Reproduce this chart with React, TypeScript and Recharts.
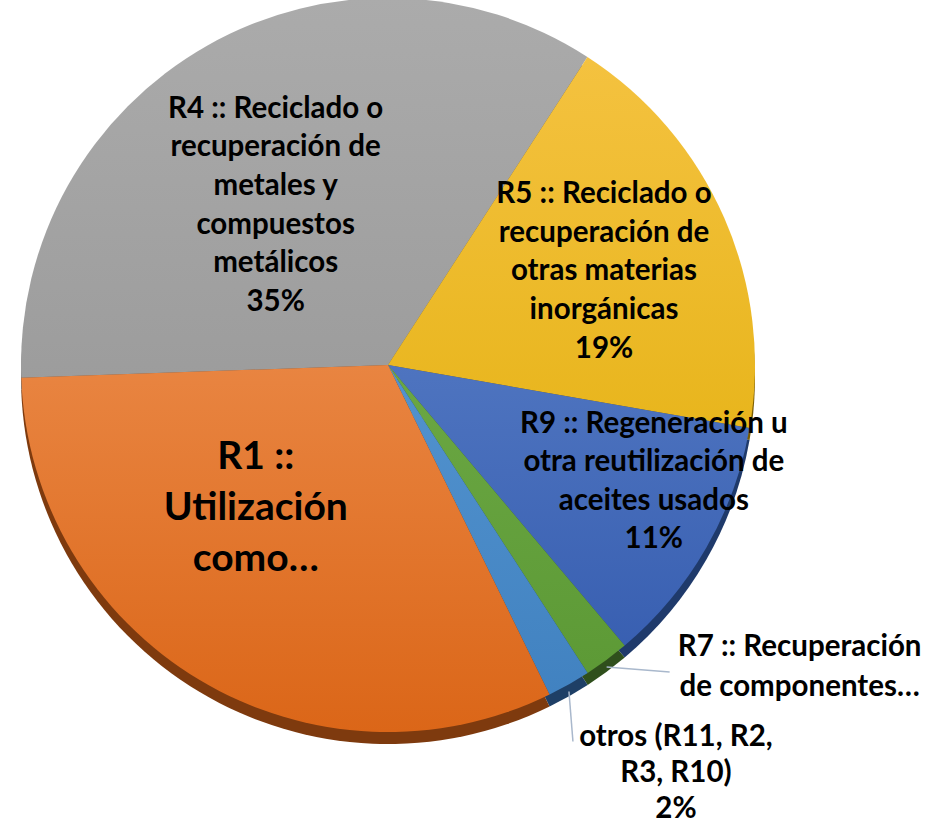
import React from "react";
import { PieChart, Pie, Cell } from "recharts";

// ---- data ----
const categories = [
  "R4 :: Reciclado o recuperación de metales y compuestos metálicos",
  "R5 :: Reciclado o recuperación de otras materias inorgánicas",
  "R9 :: Regeneración u otra reutilización de aceites usados",
  "R7 :: Recuperación de componentes…",
  "otros (R11, R2, R3, R10)",
  "R1 :: Utilización como…",
];
const values = [34.7, 18.6, 11.1, 2.0, 1.9, 31.7];
const labelLines = [
  ["R4 :: Reciclado o", "recuperación de", "metales y", "compuestos", "metálicos"],
  ["R5 :: Reciclado o", "recuperación de", "otras materias", "inorgánicas"],
  ["R9 :: Regeneración u", "otra reutilización de", "aceites usados"],
  ["R7 :: Recuperación", "de componentes…"],
  ["otros (R11, R2,", "R3, R10)"],
  ["R1 ::", "Utilización", "como…"],
];
const showPercent = [true, true, true, false, true, false];

// ---- styles ----
const W = 928;
const H = 827;
const CX = 388;
const CY = 365;
const R = 367;
const DEPTH = 12;
const FONT = "Lato, 'Open Sans', sans-serif";
const topColors = [
  ["#ababab", "#8f8f8f"],
  ["#f6c445", "#deab00"],
  ["#6a8fd2", "#3259ad"],
  ["#7cb854", "#5a9733"],
  ["#66a6de", "#3f80bf"],
  ["#f6a36a", "#db6618"],
];
const sideColors = ["#5a5a5a", "#7a5c00", "#1f3a6b", "#2f4f1c", "#1e3f66", "#7e3a0e"];

// label layout (polar, relative to pie centre)
const labelLayout: any[] = [
  { kind: "in", r: 188, a: 126.7, fs: 29.5, lh: 38.6 },
  { kind: "in", r: 232, a: 21.4, fs: 29.5, lh: 38.8 },
  { kind: "in", r: 294, a: -25.3, fs: 29.5, lh: 38.3 },
  { kind: "out", leader: [63, 5], anchor: "middle", tx: 130, ty: -16, fs: 29.5, lh: 40 },
  { kind: "out", leader: [4, 50], anchor: "middle", tx: 103, ty: 5, fs: 29.5, lh: 36 },
  { kind: "in", r: 204, a: -130.4, fs: 39, lh: 51 },
];

const total = values.reduce((s, v) => s + v, 0);
const data = categories.map((name, i) => ({ name, value: values[i] }));
const RAD = Math.PI / 180;

const renderLabel = (props: any) => {
  const { cx, cy, midAngle, outerRadius, index } = props;
  const L = labelLayout[index];
  const lines = [...labelLines[index]];
  if (showPercent[index]) lines.push(Math.round((values[index] / total) * 100) + "%");
  const n = lines.length;
  if (L.kind === "in") {
    const x = cx + L.r * Math.cos(L.a * RAD);
    const ymid = cy - L.r * Math.sin(L.a * RAD);
    const y0 = ymid - ((n - 1) / 2) * L.lh;
    return (
      <text
        key={"lbl" + index}
        x={x}
        y={y0}
        textAnchor="middle"
        fontFamily={FONT}
        fontWeight={700}
        fontSize={L.fs}
        fill="#000"
      >
        {lines.map((t, i) => (
          <tspan key={i} x={x} y={y0 + i * L.lh}>
            {t}
          </tspan>
        ))}
      </text>
    );
  }
  const sx = cx + outerRadius * Math.cos(-midAngle * RAD);
  const sy = cy + outerRadius * Math.sin(-midAngle * RAD) + DEPTH * 0.6;
  const ex = sx + L.leader[0];
  const ey = sy + L.leader[1];
  const tx = ex + L.tx;
  const ty0 = ey + L.ty;
  return (
    <g key={"lbl" + index}>
      <line x1={sx} y1={sy} x2={ex} y2={ey} stroke="#a9b8cc" strokeWidth={1.5} />
      <text
        x={tx}
        y={ty0}
        textAnchor={L.anchor}
        fontFamily={FONT}
        fontWeight={700}
        fontSize={L.fs}
        fill="#000"
      >
        {lines.map((t, i) => (
          <tspan key={i} x={tx} y={ty0 + i * L.lh}>
            {t}
          </tspan>
        ))}
      </text>
    </g>
  );
};

export default function App() {
  return (
    <div style={{ position: "absolute", left: 0, top: 0, width: W, height: H, background: "#fff" }}>
      <PieChart width={W} height={H} margin={{ top: 0, right: 0, bottom: 0, left: 0 }}>
        <defs>
          {topColors.map((c, i) => (
            <linearGradient
              key={i}
              id={"g" + i}
              gradientUnits="userSpaceOnUse"
              x1={0}
              y1={CY - R}
              x2={0}
              y2={CY + R}
            >
              <stop offset="0%" stopColor={c[0]} />
              <stop offset="100%" stopColor={c[1]} />
            </linearGradient>
          ))}
        </defs>
        <Pie
          data={data}
          dataKey="value"
          nameKey="name"
          cx={CX}
          cy={CY + DEPTH}
          outerRadius={R}
          startAngle={182}
          endAngle={-178}
          stroke="none"
          isAnimationActive={false}
          label={false}
          labelLine={false}
        >
          {data.map((d, i) => (
            <Cell key={i} fill={sideColors[i]} />
          ))}
        </Pie>
        <Pie
          data={data}
          dataKey="value"
          nameKey="name"
          cx={CX}
          cy={CY}
          outerRadius={R}
          startAngle={182}
          endAngle={-178}
          stroke="none"
          isAnimationActive={false}
          label={renderLabel}
          labelLine={false}
        >
          {data.map((d, i) => (
            <Cell key={i} fill={`url(#g${i})`} />
          ))}
        </Pie>
      </PieChart>
    </div>
  );
}
